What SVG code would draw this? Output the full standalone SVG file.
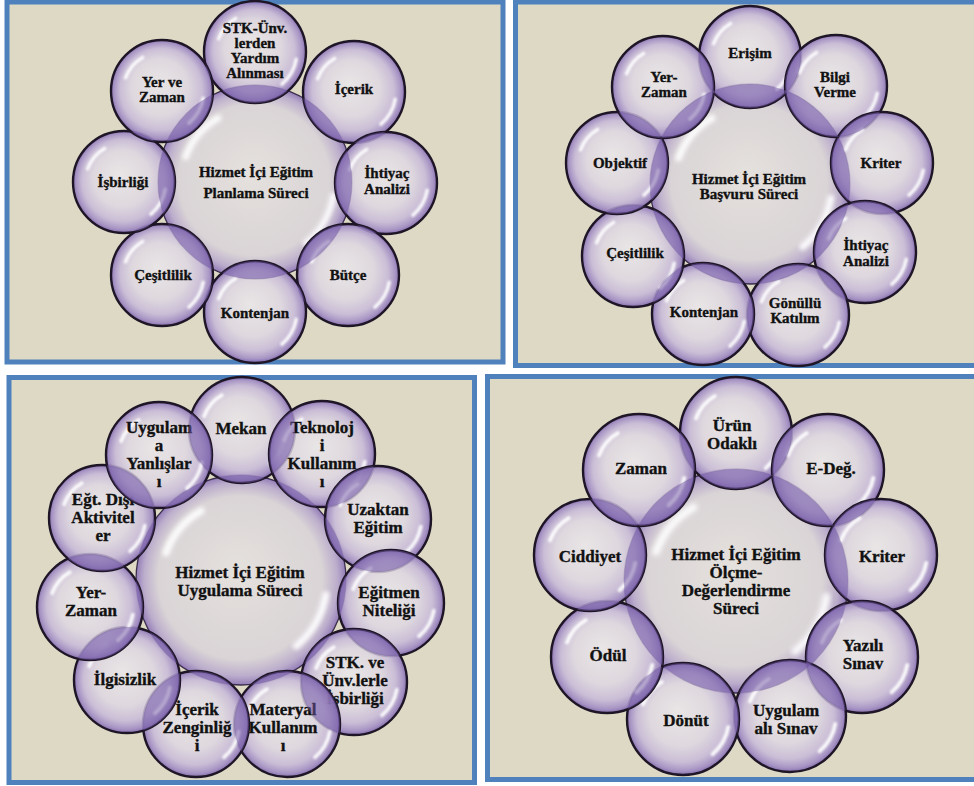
<svg xmlns="http://www.w3.org/2000/svg" xmlns:xlink="http://www.w3.org/1999/xlink" width="974" height="786" viewBox="0 0 974 786">
<style>
.bg{fill:#ddd9c4;stroke:#4f81bd;stroke-width:5}
.b{fill:url(#g);stroke:#1e1626;stroke-width:2.4}
.c{fill:url(#gc);stroke:#3b2e4e;stroke-width:1.3}
.lens{fill:#7257a3;fill-opacity:0.5;stroke:none}
.hl{fill:none;stroke:#ffffff;stroke-linecap:round;stroke-opacity:0.9;stroke-width:3.5;filter:url(#blur)}
.t{font-family:"Liberation Serif","Times New Roman","DejaVu Serif",serif;font-weight:bold;fill:#111111;stroke:#111111;stroke-width:0.35;text-anchor:middle}
.s15{font-size:15px}
.s17{font-size:17px}
</style>
<defs>
<radialGradient id="g" cx="0.5" cy="0.5" r="0.5" fx="0.45" fy="0.42">
<stop offset="0" stop-color="#ece9ef" stop-opacity="0.78"/>
<stop offset="0.55" stop-color="#dfd8e5" stop-opacity="0.8"/>
<stop offset="0.8" stop-color="#c6b8da" stop-opacity="0.83"/>
<stop offset="0.94" stop-color="#a08bc3" stop-opacity="0.9"/>
<stop offset="1" stop-color="#8269ad" stop-opacity="0.95"/>
</radialGradient>
<radialGradient id="gc" cx="0.5" cy="0.5" r="0.5" fx="0.48" fy="0.45">
<stop offset="0" stop-color="#e7e3e3" stop-opacity="0.8"/>
<stop offset="0.78" stop-color="#d9d3da" stop-opacity="0.82"/>
<stop offset="0.92" stop-color="#b6a6cd" stop-opacity="0.86"/>
<stop offset="1" stop-color="#8d74b6" stop-opacity="0.92"/>
</radialGradient>
<filter id="blur" x="-20%" y="-20%" width="140%" height="140%"><feGaussianBlur stdDeviation="1.1"/></filter>
<g id="hl"><path class="hl" d="M-35.7,-13 A38,38 0 0 1 -19,-32.9"/><path class="hl" d="M40.4,7.1 A41,41 0 0 1 26.4,31.4"/></g>
<clipPath id="k1c"><circle cx="255" cy="182" r="97"/></clipPath>
<clipPath id="k1-1"><circle cx="255" cy="52" r="51"/></clipPath>
<clipPath id="k1-2"><circle cx="354" cy="92" r="51"/></clipPath>
<clipPath id="k1-3"><circle cx="386" cy="183" r="51"/></clipPath>
<clipPath id="k1-4"><circle cx="348" cy="275" r="51"/></clipPath>
<clipPath id="k1-5"><circle cx="255" cy="312" r="51"/></clipPath>
<clipPath id="k1-6"><circle cx="162" cy="275" r="51"/></clipPath>
<clipPath id="k1-7"><circle cx="124" cy="182" r="51"/></clipPath>
<clipPath id="k1-8"><circle cx="162" cy="91" r="51"/></clipPath>
<clipPath id="k2c"><circle cx="750" cy="184" r="100"/></clipPath>
<clipPath id="k2-1"><circle cx="750" cy="57" r="51"/></clipPath>
<clipPath id="k2-2"><circle cx="836" cy="86" r="51"/></clipPath>
<clipPath id="k2-3"><circle cx="882" cy="163" r="51"/></clipPath>
<clipPath id="k2-4"><circle cx="865" cy="252" r="51"/></clipPath>
<clipPath id="k2-5"><circle cx="798" cy="315" r="51"/></clipPath>
<clipPath id="k2-6"><circle cx="703" cy="314" r="51"/></clipPath>
<clipPath id="k2-7"><circle cx="633" cy="256" r="51"/></clipPath>
<clipPath id="k2-8"><circle cx="617" cy="163" r="51"/></clipPath>
<clipPath id="k2-9"><circle cx="663" cy="87" r="51"/></clipPath>
<clipPath id="k3c"><circle cx="241" cy="580" r="105"/></clipPath>
<clipPath id="k3-1"><circle cx="242" cy="430" r="53"/></clipPath>
<clipPath id="k3-2"><circle cx="322" cy="454" r="53"/></clipPath>
<clipPath id="k3-3"><circle cx="378" cy="519" r="53"/></clipPath>
<clipPath id="k3-4"><circle cx="391" cy="603" r="53"/></clipPath>
<clipPath id="k3-5"><circle cx="354" cy="682" r="53"/></clipPath>
<clipPath id="k3-6"><circle cx="287" cy="724" r="53"/></clipPath>
<clipPath id="k3-7"><circle cx="196" cy="724" r="53"/></clipPath>
<clipPath id="k3-8"><circle cx="127" cy="680" r="53"/></clipPath>
<clipPath id="k3-9"><circle cx="90" cy="607" r="53"/></clipPath>
<clipPath id="k3-10"><circle cx="102" cy="518" r="53"/></clipPath>
<clipPath id="k3-11"><circle cx="159" cy="455" r="53"/></clipPath>
<clipPath id="k4c"><circle cx="736" cy="581" r="112"/></clipPath>
<clipPath id="k4-1"><circle cx="736" cy="433" r="56"/></clipPath>
<clipPath id="k4-2"><circle cx="828" cy="470" r="56"/></clipPath>
<clipPath id="k4-3"><circle cx="881" cy="555" r="56"/></clipPath>
<clipPath id="k4-4"><circle cx="862" cy="657" r="56"/></clipPath>
<clipPath id="k4-5"><circle cx="790" cy="716" r="56"/></clipPath>
<clipPath id="k4-6"><circle cx="683" cy="719" r="56"/></clipPath>
<clipPath id="k4-7"><circle cx="607" cy="657" r="56"/></clipPath>
<clipPath id="k4-8"><circle cx="590" cy="555" r="56"/></clipPath>
<clipPath id="k4-9"><circle cx="639" cy="470" r="56"/></clipPath>
</defs>
<rect width="974" height="786" fill="#ffffff"/>
<rect class="bg" x="7" y="2" width="496" height="360"/>
<rect class="bg" x="515.5" y="2" width="465" height="363.5"/>
<rect class="bg" x="9" y="377.5" width="465.5" height="405"/>
<rect class="bg" x="487.5" y="376.5" width="495" height="403"/>

<!-- Panel 1: Planlama -->
<g id="p1">
<g id="p1-center"><circle class="c" cx="255" cy="182" r="97"/><use xlink:href="#hl" transform="translate(255,182) scale(1.94)"/>
<text class="t s15"><tspan x="256" y="177">Hizmet İçi Eğitim</tspan><tspan x="256" y="198">Planlama Süreci</tspan></text></g>
<g id="p1-stk"><circle class="b" cx="255" cy="52" r="51"/><use xlink:href="#hl" transform="translate(255,52) scale(1.02)"/>
<text class="t s15"><tspan x="255" y="33">STK-Ünv.</tspan><tspan x="255" y="48">lerden</tspan><tspan x="255" y="63">Yardım</tspan><tspan x="255" y="78">Alınması</tspan></text></g>
<g id="p1-icerik"><circle class="b" cx="354" cy="92" r="51"/><use xlink:href="#hl" transform="translate(354,92) scale(1.02)"/>
<text class="t s15" x="354" y="94">İçerik</text></g>
<g id="p1-ihtiyac"><circle class="b" cx="386" cy="183" r="51"/><use xlink:href="#hl" transform="translate(386,183) scale(1.02)"/>
<text class="t s15"><tspan x="387" y="178">İhtiyaç</tspan><tspan x="387" y="194">Analizi</tspan></text></g>
<g id="p1-butce"><circle class="b" cx="348" cy="275" r="51"/><use xlink:href="#hl" transform="translate(348,275) scale(1.02)"/>
<text class="t s15" x="348" y="280">Bütçe</text></g>
<g id="p1-kontenjan"><circle class="b" cx="255" cy="312" r="51"/><use xlink:href="#hl" transform="translate(255,312) scale(1.02)"/>
<text class="t s15" x="255" y="318">Kontenjan</text></g>
<g id="p1-cesitlilik"><circle class="b" cx="162" cy="275" r="51"/><use xlink:href="#hl" transform="translate(162,275) scale(1.02)"/>
<text class="t s15" x="163" y="280">Çeşitlilik</text></g>
<g id="p1-isbirligi"><circle class="b" cx="124" cy="182" r="51"/><use xlink:href="#hl" transform="translate(124,182) scale(1.02)"/>
<text class="t s15" x="123" y="187">İşbirliği</text></g>
<g id="p1-yerzaman"><circle class="b" cx="162" cy="91" r="51"/><use xlink:href="#hl" transform="translate(162,91) scale(1.02)"/>
<text class="t s15"><tspan x="162" y="87">Yer ve</tspan><tspan x="162" y="102">Zaman</tspan></text></g>
<g id="p1-lens">
<g clip-path="url(#k1c)"><circle class="lens" cx="255" cy="52" r="51"/><circle class="lens" cx="354" cy="92" r="51"/><circle class="lens" cx="386" cy="183" r="51"/><circle class="lens" cx="348" cy="275" r="51"/><circle class="lens" cx="255" cy="312" r="51"/><circle class="lens" cx="162" cy="275" r="51"/><circle class="lens" cx="124" cy="182" r="51"/><circle class="lens" cx="162" cy="91" r="51"/></g>
<circle class="lens" cx="354" cy="92" r="51" clip-path="url(#k1-1)"/>
<circle class="lens" cx="386" cy="183" r="51" clip-path="url(#k1-2)"/>
<circle class="lens" cx="348" cy="275" r="51" clip-path="url(#k1-3)"/>
<circle class="lens" cx="255" cy="312" r="51" clip-path="url(#k1-4)"/>
<circle class="lens" cx="162" cy="275" r="51" clip-path="url(#k1-5)"/>
<circle class="lens" cx="124" cy="182" r="51" clip-path="url(#k1-6)"/>
<circle class="lens" cx="162" cy="91" r="51" clip-path="url(#k1-7)"/>
<circle class="lens" cx="255" cy="52" r="51" clip-path="url(#k1-8)"/>
</g>
</g>

<!-- Panel 2: Başvuru -->
<g id="p2">
<g id="p2-center"><circle class="c" cx="750" cy="184" r="100"/><use xlink:href="#hl" transform="translate(750,184) scale(2)"/>
<text class="t s15"><tspan x="749" y="184">Hizmet İçi Eğitim</tspan><tspan x="749" y="199">Başvuru Süreci</tspan></text></g>
<g id="p2-erisim"><circle class="b" cx="750" cy="57" r="51"/><use xlink:href="#hl" transform="translate(750,57) scale(1.02)"/>
<text class="t s15" x="750" y="58">Erişim</text></g>
<g id="p2-bilgi"><circle class="b" cx="836" cy="86" r="51"/><use xlink:href="#hl" transform="translate(836,86) scale(1.02)"/>
<text class="t s15"><tspan x="835" y="82">Bilgi</tspan><tspan x="835" y="97">Verme</tspan></text></g>
<g id="p2-kriter"><circle class="b" cx="882" cy="163" r="51"/><use xlink:href="#hl" transform="translate(882,163) scale(1.02)"/>
<text class="t s15" x="881" y="168">Kriter</text></g>
<g id="p2-ihtiyac"><circle class="b" cx="865" cy="252" r="51"/><use xlink:href="#hl" transform="translate(865,252) scale(1.02)"/>
<text class="t s15"><tspan x="866" y="250">İhtiyaç</tspan><tspan x="866" y="266">Analizi</tspan></text></g>
<g id="p2-gonullu"><circle class="b" cx="798" cy="315" r="51"/><use xlink:href="#hl" transform="translate(798,315) scale(1.02)"/>
<text class="t s15"><tspan x="795" y="308">Gönüllü</tspan><tspan x="795" y="323">Katılım</tspan></text></g>
<g id="p2-kontenjan"><circle class="b" cx="703" cy="314" r="51"/><use xlink:href="#hl" transform="translate(703,314) scale(1.02)"/>
<text class="t s15" x="704" y="317">Kontenjan</text></g>
<g id="p2-cesitlilik"><circle class="b" cx="633" cy="256" r="51"/><use xlink:href="#hl" transform="translate(633,256) scale(1.02)"/>
<text class="t s15" x="635" y="258">Çeşitlilik</text></g>
<g id="p2-objektif"><circle class="b" cx="617" cy="163" r="51"/><use xlink:href="#hl" transform="translate(617,163) scale(1.02)"/>
<text class="t s15" x="620" y="168">Objektif</text></g>
<g id="p2-yerzaman"><circle class="b" cx="663" cy="87" r="51"/><use xlink:href="#hl" transform="translate(663,87) scale(1.02)"/>
<text class="t s15"><tspan x="664" y="82">Yer-</tspan><tspan x="664" y="97">Zaman</tspan></text></g>
<g id="p2-lens">
<g clip-path="url(#k2c)"><circle class="lens" cx="750" cy="57" r="51"/><circle class="lens" cx="836" cy="86" r="51"/><circle class="lens" cx="882" cy="163" r="51"/><circle class="lens" cx="865" cy="252" r="51"/><circle class="lens" cx="798" cy="315" r="51"/><circle class="lens" cx="703" cy="314" r="51"/><circle class="lens" cx="633" cy="256" r="51"/><circle class="lens" cx="617" cy="163" r="51"/><circle class="lens" cx="663" cy="87" r="51"/></g>
<circle class="lens" cx="836" cy="86" r="51" clip-path="url(#k2-1)"/>
<circle class="lens" cx="882" cy="163" r="51" clip-path="url(#k2-2)"/>
<circle class="lens" cx="865" cy="252" r="51" clip-path="url(#k2-3)"/>
<circle class="lens" cx="798" cy="315" r="51" clip-path="url(#k2-4)"/>
<circle class="lens" cx="703" cy="314" r="51" clip-path="url(#k2-5)"/>
<circle class="lens" cx="633" cy="256" r="51" clip-path="url(#k2-6)"/>
<circle class="lens" cx="617" cy="163" r="51" clip-path="url(#k2-7)"/>
<circle class="lens" cx="663" cy="87" r="51" clip-path="url(#k2-8)"/>
<circle class="lens" cx="750" cy="57" r="51" clip-path="url(#k2-9)"/>
</g>
</g>

<!-- Panel 3: Uygulama -->
<g id="p3">
<g id="p3-center"><circle class="c" cx="241" cy="580" r="105"/><use xlink:href="#hl" transform="translate(241,580) scale(2.1)"/>
<text class="t s17"><tspan x="240" y="578">Hizmet İçi Eğitim</tspan><tspan x="240" y="596">Uygulama Süreci</tspan></text></g>
<g id="p3-mekan"><circle class="b" cx="242" cy="430" r="53"/><use xlink:href="#hl" transform="translate(242,430) scale(1.06)"/>
<text class="t s17" x="241" y="434">Mekan</text></g>
<g id="p3-teknoloji"><circle class="b" cx="322" cy="454" r="53"/><use xlink:href="#hl" transform="translate(322,454) scale(1.06)"/>
<text class="t s17"><tspan x="322" y="433">Teknoloj</tspan><tspan x="322" y="451">i</tspan><tspan x="322" y="469">Kullanım</tspan><tspan x="322" y="487">ı</tspan></text></g>
<g id="p3-uzaktan"><circle class="b" cx="378" cy="519" r="53"/><use xlink:href="#hl" transform="translate(378,519) scale(1.06)"/>
<text class="t s17"><tspan x="378" y="515">Uzaktan</tspan><tspan x="378" y="533">Eğitim</tspan></text></g>
<g id="p3-egitmen"><circle class="b" cx="391" cy="603" r="53"/><use xlink:href="#hl" transform="translate(391,603) scale(1.06)"/>
<text class="t s17"><tspan x="389" y="598">Eğitmen</tspan><tspan x="389" y="616">Niteliği</tspan></text></g>
<g id="p3-stk"><circle class="b" cx="354" cy="682" r="53"/><use xlink:href="#hl" transform="translate(354,682) scale(1.06)"/>
<text class="t s17"><tspan x="355" y="668">STK. ve</tspan><tspan x="355" y="686">Ünv.lerle</tspan><tspan x="355" y="704">İşbirliği</tspan></text></g>
<g id="p3-materyal"><circle class="b" cx="287" cy="724" r="53"/><use xlink:href="#hl" transform="translate(287,724) scale(1.06)"/>
<text class="t s17"><tspan x="283" y="715">Materyal</tspan><tspan x="283" y="733">Kullanım</tspan><tspan x="283" y="751">ı</tspan></text></g>
<g id="p3-icerik"><circle class="b" cx="196" cy="724" r="53"/><use xlink:href="#hl" transform="translate(196,724) scale(1.06)"/>
<text class="t s17"><tspan x="197" y="715">İçerik</tspan><tspan x="197" y="733">Zenginliğ</tspan><tspan x="197" y="751">i</tspan></text></g>
<g id="p3-ilgisizlik"><circle class="b" cx="127" cy="680" r="53"/><use xlink:href="#hl" transform="translate(127,680) scale(1.06)"/>
<text class="t s17" x="125" y="685">İlgisizlik</text></g>
<g id="p3-yerzaman"><circle class="b" cx="90" cy="607" r="53"/><use xlink:href="#hl" transform="translate(90,607) scale(1.06)"/>
<text class="t s17"><tspan x="91" y="598">Yer-</tspan><tspan x="91" y="616">Zaman</tspan></text></g>
<g id="p3-egtdisi"><circle class="b" cx="102" cy="518" r="53"/><use xlink:href="#hl" transform="translate(102,518) scale(1.06)"/>
<text class="t s17"><tspan x="103" y="505">Eğt. Dışı</tspan><tspan x="103" y="523">Aktivitel</tspan><tspan x="103" y="541">er</tspan></text></g>
<g id="p3-uygulama"><circle class="b" cx="159" cy="455" r="53"/><use xlink:href="#hl" transform="translate(159,455) scale(1.06)"/>
<text class="t s17"><tspan x="159" y="433">Uygulam</tspan><tspan x="159" y="451">a</tspan><tspan x="159" y="469">Yanlışlar</tspan><tspan x="159" y="487">ı</tspan></text></g>
<g id="p3-lens">
<g clip-path="url(#k3c)"><circle class="lens" cx="242" cy="430" r="53"/><circle class="lens" cx="322" cy="454" r="53"/><circle class="lens" cx="378" cy="519" r="53"/><circle class="lens" cx="391" cy="603" r="53"/><circle class="lens" cx="354" cy="682" r="53"/><circle class="lens" cx="287" cy="724" r="53"/><circle class="lens" cx="196" cy="724" r="53"/><circle class="lens" cx="127" cy="680" r="53"/><circle class="lens" cx="90" cy="607" r="53"/><circle class="lens" cx="102" cy="518" r="53"/><circle class="lens" cx="159" cy="455" r="53"/></g>
<circle class="lens" cx="322" cy="454" r="53" clip-path="url(#k3-1)"/>
<circle class="lens" cx="378" cy="519" r="53" clip-path="url(#k3-2)"/>
<circle class="lens" cx="391" cy="603" r="53" clip-path="url(#k3-3)"/>
<circle class="lens" cx="354" cy="682" r="53" clip-path="url(#k3-4)"/>
<circle class="lens" cx="287" cy="724" r="53" clip-path="url(#k3-5)"/>
<circle class="lens" cx="196" cy="724" r="53" clip-path="url(#k3-6)"/>
<circle class="lens" cx="127" cy="680" r="53" clip-path="url(#k3-7)"/>
<circle class="lens" cx="90" cy="607" r="53" clip-path="url(#k3-8)"/>
<circle class="lens" cx="102" cy="518" r="53" clip-path="url(#k3-9)"/>
<circle class="lens" cx="159" cy="455" r="53" clip-path="url(#k3-10)"/>
<circle class="lens" cx="242" cy="430" r="53" clip-path="url(#k3-11)"/>
</g>
</g>

<!-- Panel 4: Ölçme-Değerlendirme -->
<g id="p4">
<g id="p4-center"><circle class="c" cx="736" cy="581" r="112"/><use xlink:href="#hl" transform="translate(736,581) scale(2.24)"/>
<text class="t s17"><tspan x="736" y="560">Hizmet İçi Eğitim</tspan><tspan x="736" y="578">Ölçme-</tspan><tspan x="736" y="596">Değerlendirme</tspan><tspan x="736" y="614">Süreci</tspan></text></g>
<g id="p4-urun"><circle class="b" cx="736" cy="433" r="56"/><use xlink:href="#hl" transform="translate(736,433) scale(1.12)"/>
<text class="t s17"><tspan x="732" y="431">Ürün</tspan><tspan x="732" y="449">Odaklı</tspan></text></g>
<g id="p4-edeg"><circle class="b" cx="828" cy="470" r="56"/><use xlink:href="#hl" transform="translate(828,470) scale(1.12)"/>
<text class="t s17" x="831" y="474">E-Değ.</text></g>
<g id="p4-kriter"><circle class="b" cx="881" cy="555" r="56"/><use xlink:href="#hl" transform="translate(881,555) scale(1.12)"/>
<text class="t s17" x="882" y="562">Kriter</text></g>
<g id="p4-yazili"><circle class="b" cx="862" cy="657" r="56"/><use xlink:href="#hl" transform="translate(862,657) scale(1.12)"/>
<text class="t s17"><tspan x="863" y="651">Yazılı</tspan><tspan x="863" y="669">Sınav</tspan></text></g>
<g id="p4-uygulamali"><circle class="b" cx="790" cy="716" r="56"/><use xlink:href="#hl" transform="translate(790,716) scale(1.12)"/>
<text class="t s17"><tspan x="786" y="716">Uygulam</tspan><tspan x="786" y="734">alı Sınav</tspan></text></g>
<g id="p4-donut"><circle class="b" cx="683" cy="719" r="56"/><use xlink:href="#hl" transform="translate(683,719) scale(1.12)"/>
<text class="t s17" x="686" y="726">Dönüt</text></g>
<g id="p4-odul"><circle class="b" cx="607" cy="657" r="56"/><use xlink:href="#hl" transform="translate(607,657) scale(1.12)"/>
<text class="t s17" x="608" y="661">Ödül</text></g>
<g id="p4-ciddiyet"><circle class="b" cx="590" cy="555" r="56"/><use xlink:href="#hl" transform="translate(590,555) scale(1.12)"/>
<text class="t s17" x="590" y="562">Ciddiyet</text></g>
<g id="p4-zaman"><circle class="b" cx="639" cy="470" r="56"/><use xlink:href="#hl" transform="translate(639,470) scale(1.12)"/>
<text class="t s17" x="641" y="474">Zaman</text></g>
<g id="p4-lens">
<g clip-path="url(#k4c)"><circle class="lens" cx="736" cy="433" r="56"/><circle class="lens" cx="828" cy="470" r="56"/><circle class="lens" cx="881" cy="555" r="56"/><circle class="lens" cx="862" cy="657" r="56"/><circle class="lens" cx="790" cy="716" r="56"/><circle class="lens" cx="683" cy="719" r="56"/><circle class="lens" cx="607" cy="657" r="56"/><circle class="lens" cx="590" cy="555" r="56"/><circle class="lens" cx="639" cy="470" r="56"/></g>
<circle class="lens" cx="828" cy="470" r="56" clip-path="url(#k4-1)"/>
<circle class="lens" cx="881" cy="555" r="56" clip-path="url(#k4-2)"/>
<circle class="lens" cx="862" cy="657" r="56" clip-path="url(#k4-3)"/>
<circle class="lens" cx="790" cy="716" r="56" clip-path="url(#k4-4)"/>
<circle class="lens" cx="683" cy="719" r="56" clip-path="url(#k4-5)"/>
<circle class="lens" cx="607" cy="657" r="56" clip-path="url(#k4-6)"/>
<circle class="lens" cx="590" cy="555" r="56" clip-path="url(#k4-7)"/>
<circle class="lens" cx="639" cy="470" r="56" clip-path="url(#k4-8)"/>
<circle class="lens" cx="736" cy="433" r="56" clip-path="url(#k4-9)"/>
</g>
</g>
</svg>
